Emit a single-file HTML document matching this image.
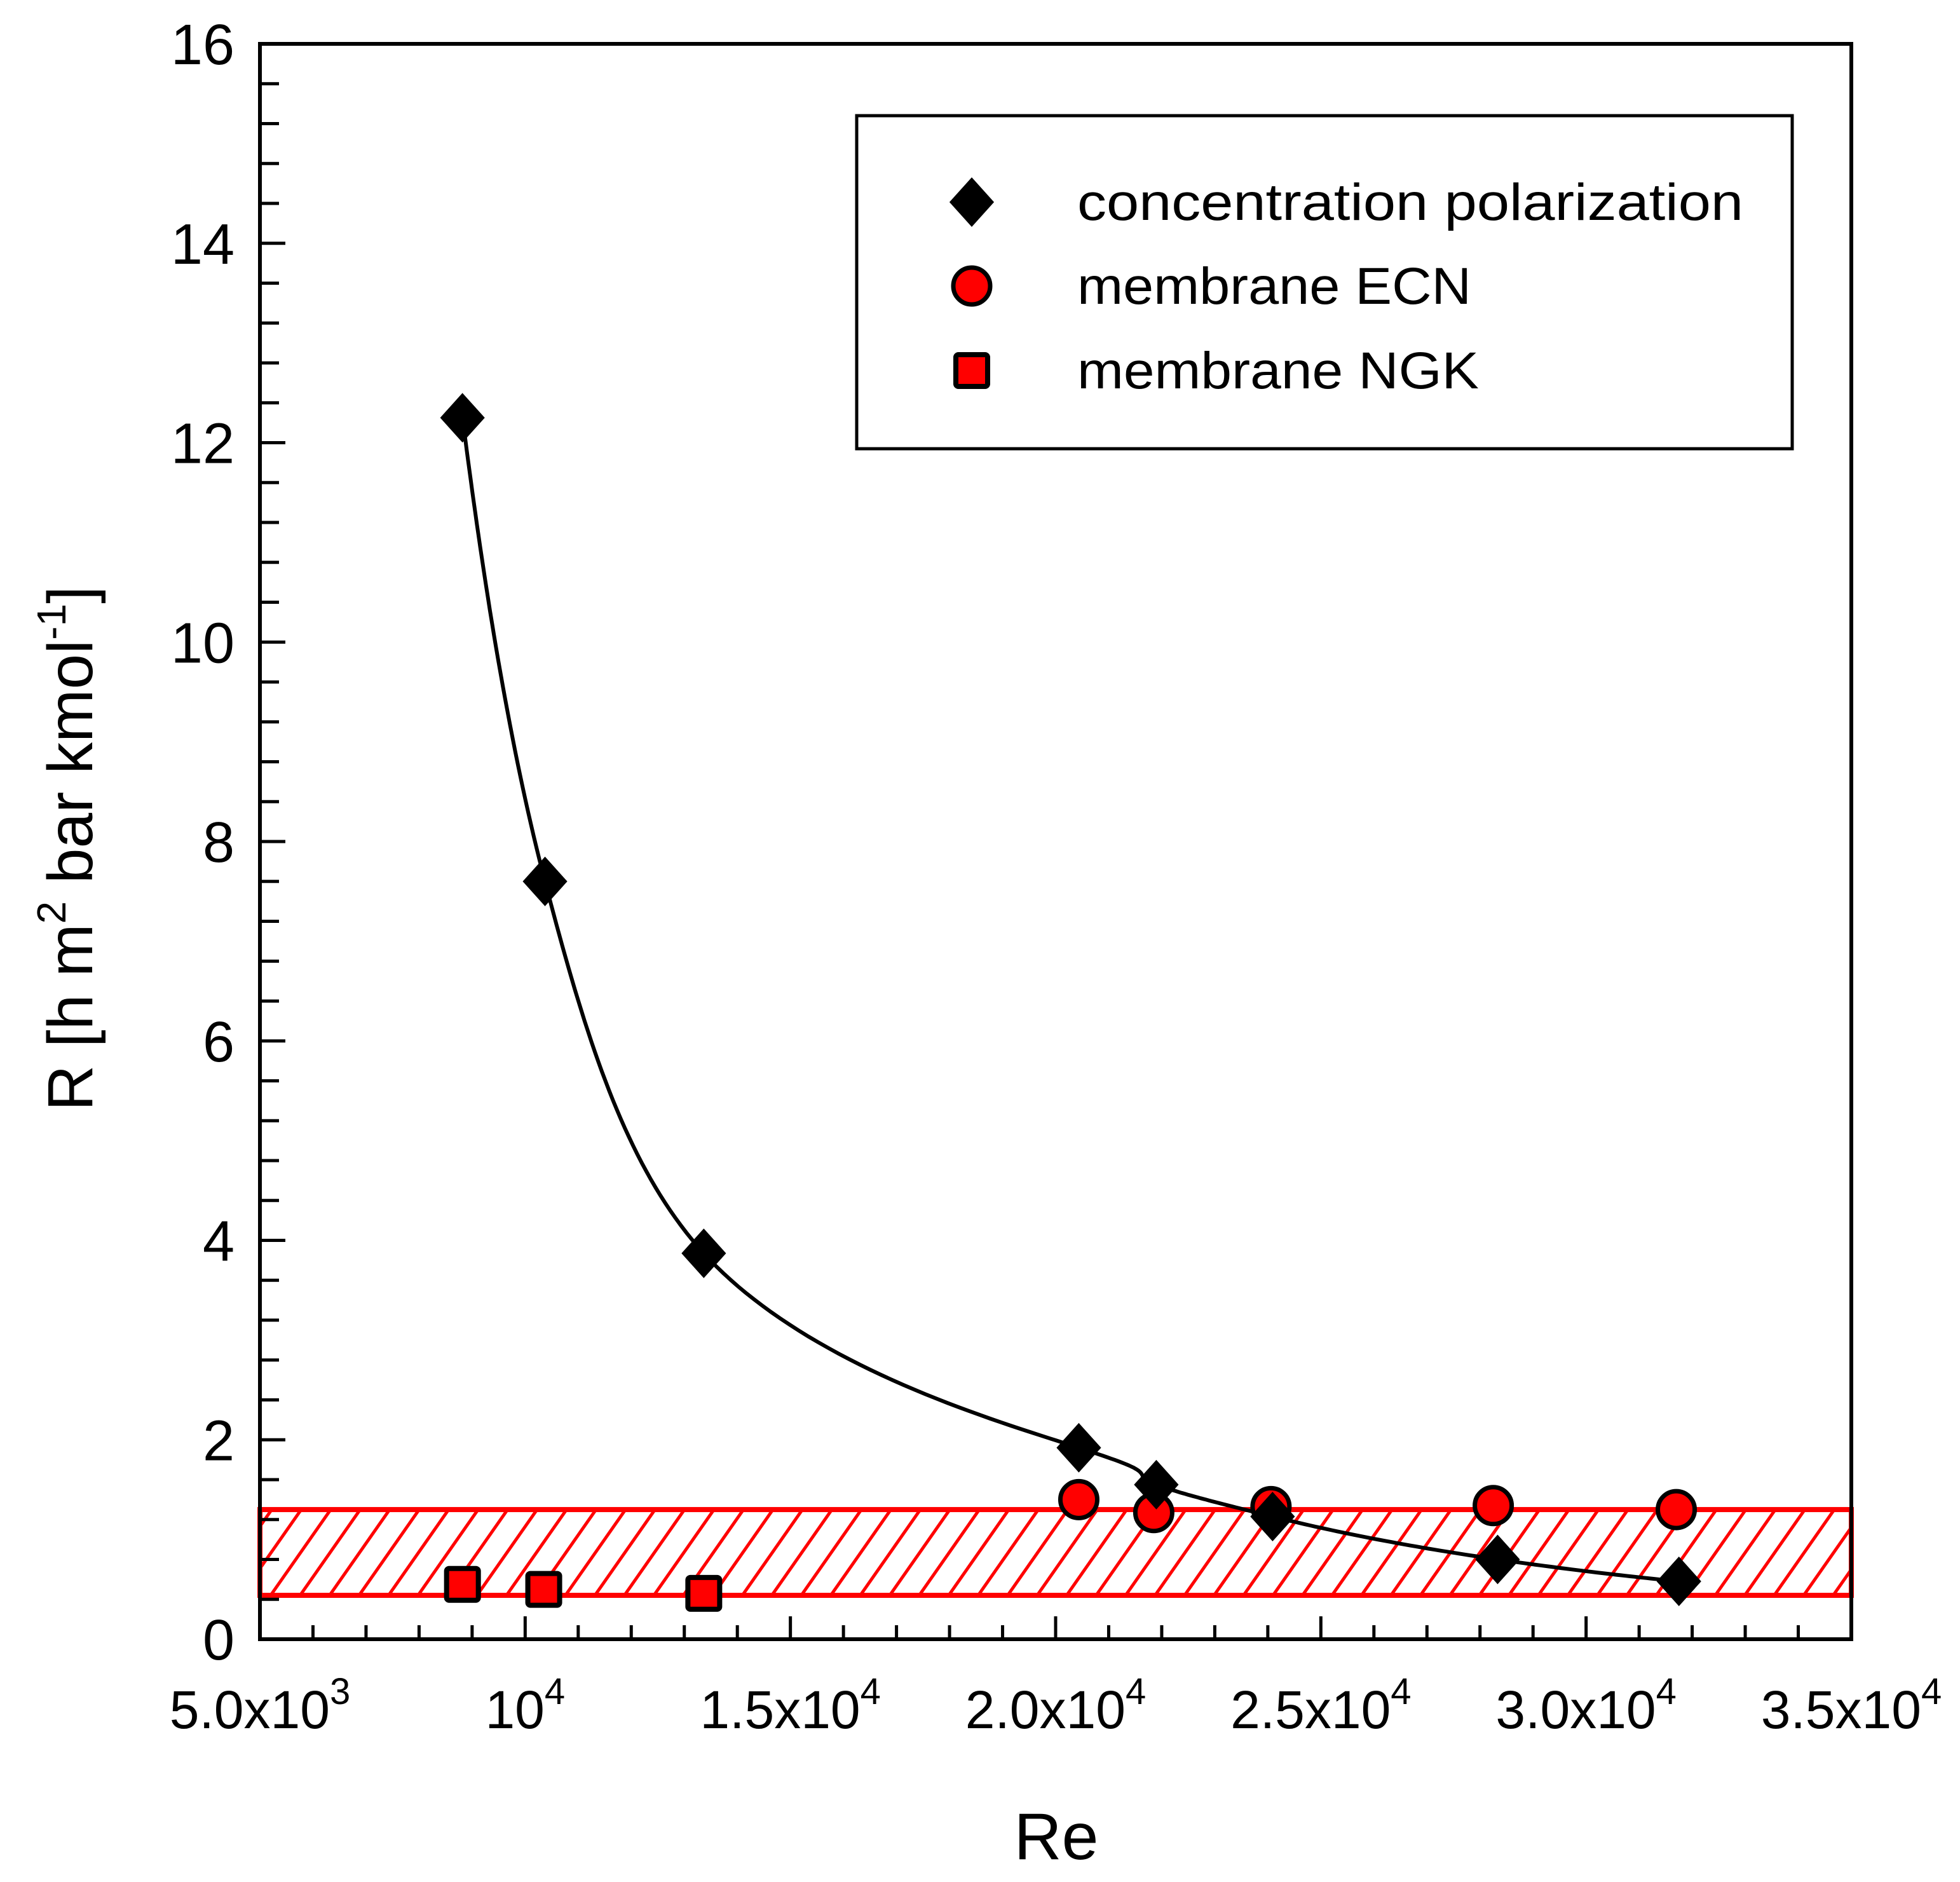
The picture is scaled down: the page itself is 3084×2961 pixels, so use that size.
<!DOCTYPE html>
<html><head><meta charset="utf-8"><style>
html,body{margin:0;padding:0;background:#fff;}
svg{display:block;font-family:"Liberation Sans",sans-serif;}
</style></head><body>
<svg id="chart" width="3084" height="2961" viewBox="0 0 3084 2961" xmlns="http://www.w3.org/2000/svg">
<defs>
<pattern id="hatch" patternUnits="userSpaceOnUse" width="38" height="38" patternTransform="rotate(35)">
<line x1="0" y1="0" x2="0" y2="38" stroke="#ff0000" stroke-width="10"/>
</pattern>
</defs>
<g id="plot"></g>
</svg>
<script>
const reCP = [8818, 10374, 13367, 20437, 21898, 24090, 28332, 31750];
const rCP = [12.25, 7.6, 3.87, 1.92, 1.55, 1.23, 0.80, 0.58];
const reECN = [20437, 21850, 24060, 28250, 31700];
const rECN = [1.40, 1.27, 1.33, 1.34, 1.30];
const reNGK = [8818, 10350, 13367];
const rNGK = [0.55, 0.50, 0.46];
const bandRange = [0.44, 1.30];
const yTicks = [0, 2, 4, 6, 8, 10, 12, 14, 16];
const xTickVals = [5000, 10000, 15000, 20000, 25000, 30000, 35000];
const xTickMant = ["5.0x10", "10", "1.5x10", "2.0x10", "2.5x10", "3.0x10", "3.5x10"];
const xTickExp = ["3", "4", "4", "4", "4", "4", "4"];

const L=409,R=2913,T=69,B=2579;
const X0=5000,X1=35000,Y0=0,Y1=16;
function sx(v){return L+(v-X0)/(X1-X0)*(R-L);}
function sy(v){return B-(v-Y0)/(Y1-Y0)*(B-T);}
const NS="http://www.w3.org/2000/svg";
const g=document.getElementById('plot');
function mk(tag,attrs,parent){const e=document.createElementNS(NS,tag);for(const k in attrs)e.setAttribute(k,attrs[k]);(parent||g).appendChild(e);return e;}

// band
const band=mk('rect',{x:L,y:sy(bandRange[1]),width:R-L,height:sy(bandRange[0])-sy(bandRange[1]),fill:'url(#hatch)',stroke:'#ff0000','stroke-width':8});



// ticks
for(let v=0;v<=16.0001;v+=0.4){
  const isMaj=Math.abs(v/2-Math.round(v/2))<1e-6;
  if(isMaj) continue;
  const t=mk('line',{x1:L,x2:L+30,y1:sy(v),y2:sy(v),stroke:'#000','stroke-width':5});
  
  
}
yTicks.forEach(v=>{
  const t=mk('line',{x1:L,x2:L+40,y1:sy(v),y2:sy(v),stroke:'#000','stroke-width':5});
  
  
  const tx=mk('text',{x:L-40,y:sy(v)+32,'text-anchor':'end','font-size':90,fill:'#000'});
  tx.textContent=String(v);
  
  
});
for(let v=6000;v<35000;v+=1000){
  if(v%5000===0) continue;
  const t=mk('line',{x1:sx(v),x2:sx(v),y1:B,y2:B-22,stroke:'#000','stroke-width':5});
  
  
}
xTickVals.forEach((v,i)=>{
  const t=mk('line',{x1:sx(v),x2:sx(v),y1:B,y2:B-36,stroke:'#000','stroke-width':5});
  
  
  const tx=mk('text',{x:sx(v),y:B+140,'text-anchor':'middle','font-size':84,fill:'#000'});
  
  
  const a=document.createElementNS(NS,'tspan');a.textContent=xTickMant[i];tx.appendChild(a);
  const b=document.createElementNS(NS,'tspan');b.setAttribute('dy','-38');b.setAttribute('font-size','58');b.textContent=xTickExp[i];tx.appendChild(b);
});

// frame
const fr=mk('rect',{x:L,y:T,width:R-L,height:B-T,fill:'none',stroke:'#000','stroke-width':6});



// curve: Catmull-Rom in log-log space, sampled
const lp=reCP.map((v,i)=>[Math.log(v),Math.log(rCP[i])]);
const samp=[];
for(let i=0;i<lp.length-1;i++){
  const p0=lp[Math.max(0,i-1)],p1=lp[i],p2=lp[i+1],p3=lp[Math.min(lp.length-1,i+2)];
  for(let k=0;k<40;k++){
    const t=k/40,t2=t*t,t3=t2*t;
    const f=(a,b,c,d)=>0.5*((2*b)+(-a+c)*t+(2*a-5*b+4*c-d)*t2+(-a+3*b-3*c+d)*t3);
    samp.push([f(p0[0],p1[0],p2[0],p3[0]),f(p0[1],p1[1],p2[1],p3[1])]);
  }
}
samp.push(lp[lp.length-1]);
const d='M'+samp.map(p=>sx(Math.exp(p[0])).toFixed(1)+','+sy(Math.exp(p[1])).toFixed(1)).join(' L');
const cv=mk('path',{d:d,fill:'none',stroke:'#000','stroke-width':6});



function diamond(cx,cy,s,parent){return mk('polygon',{points:`${cx},${cy-s} ${cx+s*0.9},${cy} ${cx},${cy+s} ${cx-s*0.9},${cy}`,fill:'#000',stroke:'#000','stroke-width':4},parent);}
function circle(cx,cy,r,parent){return mk('circle',{cx:cx,cy:cy,r:r,fill:'#ff0000',stroke:'#000','stroke-width':7},parent);}
function square(cx,cy,s,parent){return mk('rect',{x:cx-s,y:cy-s,width:2*s,height:2*s,rx:4,fill:'#ff0000',stroke:'#000','stroke-width':8},parent);}

reNGK.forEach((v,i)=>{const e=square(sx(v),sy(rNGK[i]),25);
  
  });
reECN.forEach((v,i)=>{const e=circle(sx(v),sy(rECN[i]),29);
  
  });
reCP.forEach((v,i)=>{const e=diamond(sx(v),sy(rCP[i]),36);
  
  });

// legend
const lg=mk('g',{});


mk('rect',{x:1348,y:182,width:1472,height:524,fill:'#fff',stroke:'#000','stroke-width':5},lg);
const ly=[318,450,583];
const labels=['concentration polarization','membrane ECN','membrane NGK'];
const widths=[1048,620,632];
const names=['legend-entry-cp','legend-entry-ecn','legend-entry-ngk'];
labels.forEach((lab,i)=>{
  const ge=mk('g',{},lg);
  
  
  if(i===0) diamond(1529,ly[i],36,ge);
  if(i===1) circle(1529,ly[i],29,ge);
  if(i===2) square(1529,ly[i],25,ge);
  const t=mk('text',{x:1695,y:ly[i]+28,'font-size':82,fill:'#000',textLength:widths[i],lengthAdjust:'spacingAndGlyphs'},ge);
  t.textContent=lab;
});

// axis titles
const xt=mk('text',{x:1662,y:2925,'text-anchor':'middle','font-size':104,fill:'#000'});
xt.textContent='Re';


const yt=mk('text',{x:0,y:0,'text-anchor':'middle','font-size':100,fill:'#000',transform:'translate(145,1335) rotate(-90)'});


const parts=[['R [h m',0,100],['2',-42,64],[' bar kmol',42,100],['-1',-42,64],[']',42,100]];
parts.forEach(p=>{const s=document.createElementNS(NS,'tspan');s.setAttribute('dy',p[1]);s.setAttribute('font-size',p[2]);s.textContent=p[0];yt.appendChild(s);});
</script>
</body></html>
